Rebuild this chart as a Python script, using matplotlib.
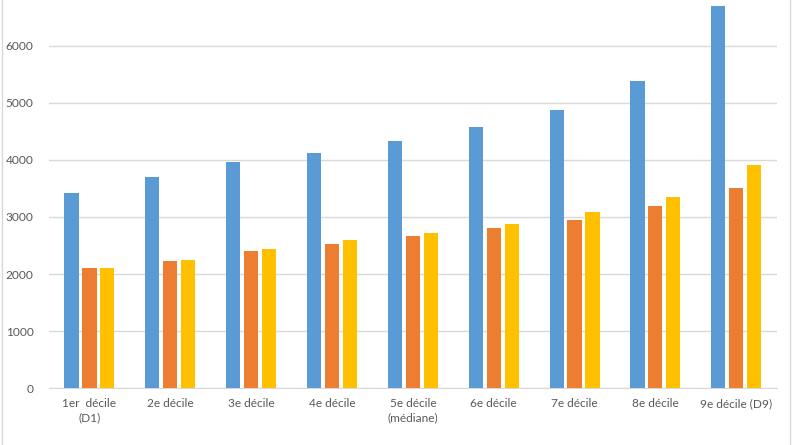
import numpy as np
import matplotlib.pyplot as plt
from matplotlib.lines import Line2D

# ---- data ------------------------------
categories = ["1er  décile\n(D1)", "2e décile", "3e décile", "4e décile",
              "5e décile\n(médiane)", "6e décile", "7e décile", "8e décile",
              "9e décile (D9)"]
serie_bleue = [3415, 3700, 3958, 4127, 4337, 4582, 4874, 5376, 6696]
serie_orange = [2110, 2224, 2399, 2533, 2668, 2802, 2954, 3187, 3508]
serie_jaune = [2115, 2247, 2440, 2598, 2726, 2878, 3094, 3357, 3911]
yticks = [0, 1000, 2000, 3000, 4000, 5000, 6000]

colors = ["#5B9BD5", "#ED7D31", "#FFC000"]
grid_col = "#D9D9D9"
text_col = "#595959"

plt.rcParams['font.family'] = ['Lato', 'DejaVu Sans']

fig = plt.figure(figsize=(7.92, 4.45), dpi=100)
ax = fig.add_axes([49 / 792, 56.7 / 445, 727.7 / 792, 388.3 / 445])

x = np.arange(len(categories))
width = 0.175
step = 0.222
for i, (vals, c) in enumerate(zip([serie_bleue, serie_orange, serie_jaune], colors)):
    ax.bar(x + (i - 1) * step, vals, width, color=c, zorder=3)

ax.set_xlim(-0.5, len(categories) - 0.5)
ax.set_ylim(0, 6800)
ax.set_yticks(yticks)
ax.set_xticks(x)
ax.set_xticklabels(categories, linespacing=1.4)
ax.grid(axis='y', color=grid_col, linewidth=1, zorder=0)
for s in ["top", "right", "left"]:
    ax.spines[s].set_visible(False)
ax.spines["bottom"].set_color(grid_col)
ax.tick_params(axis='both', length=0, colors=text_col, labelsize=8.6)
ax.tick_params(axis='y', pad=11)
ax.tick_params(axis='x', pad=7)

# chart area border (left / right)
fig.add_artist(Line2D([1.5 / 792, 1.5 / 792], [0, 1], color=grid_col, lw=1))
fig.add_artist(Line2D([790 / 792, 790 / 792], [0, 1], color=grid_col, lw=1))

fig.savefig("out.png", dpi=100)
